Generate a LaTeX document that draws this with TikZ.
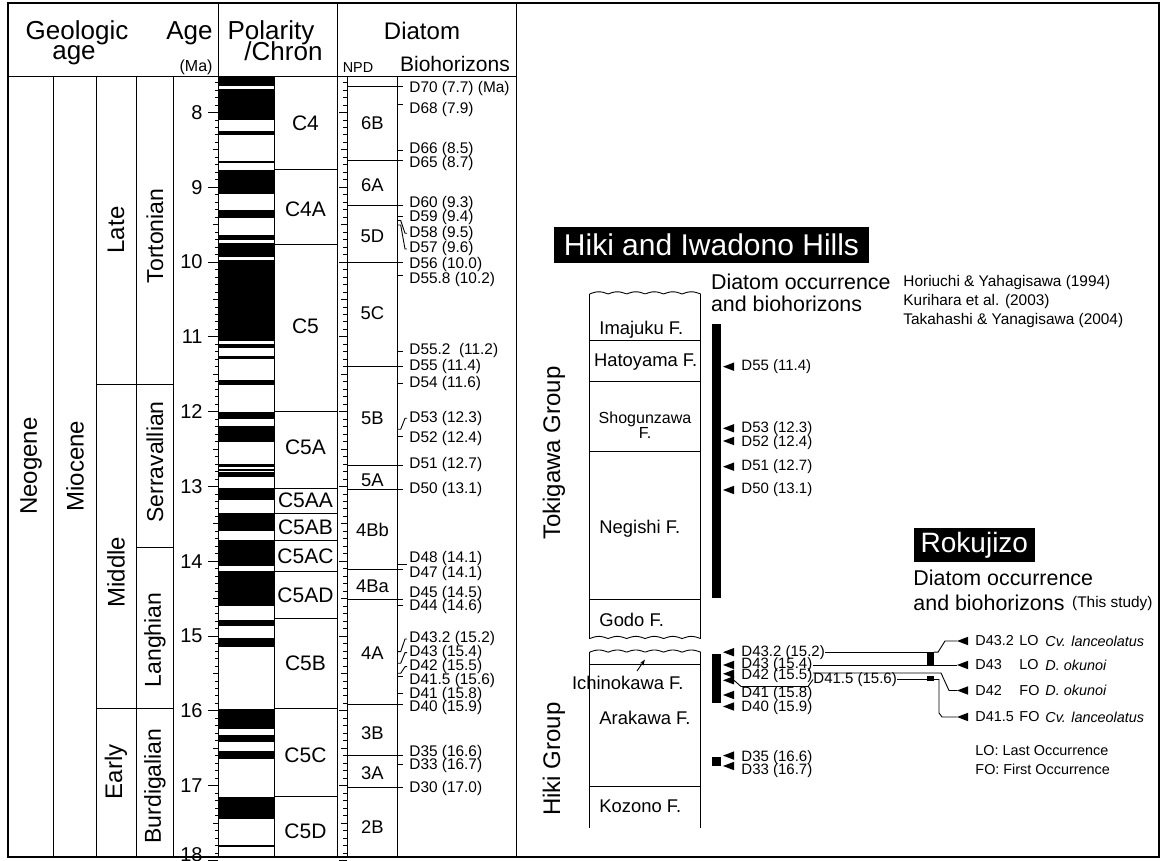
\documentclass[tikz,border=0pt]{standalone}
\usepackage{fontspec}
\setmainfont{Liberation Sans}
\usetikzlibrary{arrows.meta}
\newcommand{\fsz}[1]{\fontsize{#1}{#1}\selectfont}
% age (Ma) -> vertical pixel position
\newcommand{\ay}[1]{(112.5+74.8*(#1-8))}

\begin{document}
\begin{tikzpicture}[x=0.5pt,y=-0.5pt,line width=0.45pt,
  bio/.style={font=\fsz{7.7},inner sep=0,anchor=west},
  hbio/.style={font=\fsz{7.5},inner sep=0,anchor=west},
  rbio/.style={font=\fsz{7.2},inner sep=0,anchor=west},
  fm/.style={font=\fsz{9.2},inner sep=0,anchor=west},
  horizon/.pic={\fill (0,0) -- (11,-4.2) -- (11,4.2) -- cycle;}]
  \useasboundingbox (0,0) rectangle (1164,861);
  \clip (0,0) rectangle (1164,861);

  % column frame
  \foreach \x in {218,337,516} \draw (\x,3) -- (\x,857);
  \draw (8,76) -- (516,76);
  \foreach \x in {53,96,136,173,274,347.3,397.7} \draw (\x,76) -- (\x,857);

  % header
  \node[font=\fsz{13},anchor=base] (hgeo) at (77,40) {Geologic};
  \node[font=\fsz{13},anchor=base] (hage) at (74,60) {age};
  \node[font=\fsz{13},anchor=base east,inner sep=0] (hma) at (213,40) {Age};
  \node[font=\fsz{8},anchor=base east,inner sep=0] (hunit) at (213,72) {(Ma)};
  \node[font=\fsz{13},anchor=base] (hpol) at (271,40) {Polarity};
  \node[font=\fsz{13},anchor=base] (hchr) at (283.5,60.5) {/Chron};
  \node[font=\fsz{12},anchor=base] (hdia) at (422,40) {Diatom};
  \node[font=\fsz{7.2},anchor=base] (hnpd) at (358,73) {NPD};
  \node[font=\fsz{10.5},anchor=base] (hbio) at (455,72) {Biohorizons};

  % geologic age
  \node[rotate=90,font=\fsz{12}] (neogene) at (31,466) {Neogene};
  \node[rotate=90,font=\fsz{12}] (miocene) at (75,466) {Miocene};
  \node[rotate=90,font=\fsz{12}] (late) at (116,230) {Late};
  \node[rotate=90,font=\fsz{12}] (middle) at (116,572) {Middle};
  \node[rotate=90,font=\fsz{12}] (early) at (116,772) {Early};
  \node[rotate=90,font=\fsz{11.5}] (torton) at (155,236) {Tortonian};
  \node[rotate=90,font=\fsz{11.5}] (serra) at (155,462) {Serravallian};
  \node[rotate=90,font=\fsz{11.5}] (langh) at (155,640) {Langhian};
  \node[rotate=90,font=\fsz{11.5}] (burdi) at (155,786) {Burdigalian};
  \draw (96,{\ay{11.63}}) -- (173,{\ay{11.63}});
  \draw (136,{\ay{13.82}}) -- (173,{\ay{13.82}});
  \draw (96,{\ay{15.97}}) -- (173,{\ay{15.97}});

  % age scales
  \foreach \i in {76,...,180}{
    \pgfmathsetmacro\tl{ifthenelse(mod(\i,10)==0,10,ifthenelse(mod(\i,5)==0,5.5,3))}
    \pgfmathsetmacro\tn{ifthenelse(mod(\i,10)==0,8,ifthenelse(mod(\i,5)==0,6,4))}
    \draw (218,{\ay{\i/10}}) -- ++(-\tl,0);
    \draw (347.3,{\ay{\i/10}}) -- ++(-\tn,0);
  }
  \foreach \n in {8,...,17}
    \node[font=\fsz{10},anchor=east,inner sep=1] (age\n) at (205,{\ay{\n}}) {\n};
  \node[font=\fsz{10},anchor=east,inner sep=1] (age18) at (205,855) {18};

  % polarity (normal = black)
  \foreach \a/\b in {7.512/7.64,7.686/8.10,8.247/8.30,8.645/8.67,8.77/9.09,
      9.30/9.41,9.64/9.71,9.745/9.93,9.97/11.05,11.10/11.15,11.25/11.30,
      11.58/11.64,12.0/12.10,12.19/12.40,12.70/12.74,12.77/12.79,12.81/12.87,
      13.02/13.18,13.36/13.60,13.72/14.06,14.13/14.60,14.78/14.87,15.02/15.15,
      15.97/16.24,16.32/16.42,16.53/16.64,17.15/17.45,17.79/17.82}
    \fill (218,{\ay{\a}}) rectangle (274,{\ay{\b}});
  \foreach \a in {8.76,9.76,12.0,13.02,13.36,13.72,14.14,14.77,15.97,17.15}
    \draw (274,{\ay{\a}}) -- (337,{\ay{\a}});
  \foreach \c/\a in {C4/8.14,C4A/9.30,C5/10.86,C5A/12.47,C5AA/13.19,C5AB/13.54,
      C5AC/13.93,C5AD/14.45,C5B/15.36,C5C/16.59,C5D/17.61}
    \node[font=\fsz{10.5}] (chron\c) at (305.5,{\ay{\a}}) {\c};

  % NPD zones
  \foreach \y in {86.7,160.7,205.3,262.3,366.7,465,489.3,569.3,599.3,704.3,755,787.3}
    \draw (347.3,\y) -- (403,\y);
  \foreach \z/\y in {6B/123.3,6A/185,5D/236.7,5C/313.3,5B/418.3,5A/480,4Bb/530,
      4Ba/586,4A/653.3,3B/733.3,3A/773.3,2B/826.7}
    \node[font=\fsz{9.2}] (npd\z) at (372.5,\y) {\z};

  % diatom biohorizons
  \foreach \y in {104.3,150,216,275,351.7,383.3,436.7,605,676.7,693.3,764}
    \draw (397.7,\y) -- (403,\y);
  \draw (397.7,564.3) -- (407,564.3);
  \foreach \s/\t in {220.5/233.3,225/249,429.3/418.3,651.7/639,663.3/652.7,673.3/666.7}
    \draw (397.7,\s) -- (400.7,\s) -- (405,\t) -- (407,\t);
  \foreach \t/\y [count=\k] in {D70 (7.7) (Ma)/89,D68 (7.9)/110,D66 (8.5)/149.3,
      D65 (8.7)/164,D60 (9.3)/204,D59 (9.4)/217.3,D58 (9.5)/233.3,D57 (9.6)/249,
      D56 (10.0)/265,D55.8 (10.2)/280,D55.2\ \ (11.2)/351,D55 (11.4)/366.7,
      D54 (11.6)/384,D53 (12.3)/418.3,D52 (12.4)/438.3,D51 (12.7)/465,
      D50 (13.1)/490,D48 (14.1)/558.3,D47 (14.1)/573.3,D45 (14.5)/593.3,
      D44 (14.6)/606.7,D43.2 (15.2)/639,D43 (15.4)/652.7,D42 (15.5)/666.7,
      D41.5 (15.6)/680.7,D41 (15.8)/695,D40 (15.9)/707.3,D35 (16.6)/752.7,
      D33 (16.7)/766,D30 (17.0)/788.3}
    \node[bio] (bh\k) at (409,\y) {\t};

  % Hiki and Iwadono Hills
  \fill (553.5,226.7) rectangle (869.4,262.7);
  \node[font=\fsz{15},text=white] (hikititle) at (711.5,245) {Hiki and Iwadono Hills};
  \node[font=\fsz{10.7},inner sep=0,anchor=west] (hikiocc) at (710.6,282) {Diatom occurrence};
  \node[font=\fsz{10.7},inner sep=0,anchor=west] (hikibio) at (710.6,304) {and biohorizons};
  \node[bio] (ref1) at (903,282.3) {Horiuchi \& Yahagisawa (1994)};
  \node[bio] (ref2) at (903,301.7) {Kurihara et al. (2003)};
  \node[bio] (ref3) at (903,320.7) {Takahashi \& Yanagisawa (2004)};

  \foreach \y in {294,638.6,652.2}
    \draw plot[domain=589.6:700.7,samples=90] (\x,{\y-2.2*abs(sin((\x-589.6)*9.73))});
  \draw (589.6,294) -- (589.6,638.6) (700.7,294) -- (700.7,638.6);
  \draw (589.6,652.2) -- (589.6,828) (700.7,652.2) -- (700.7,828);
  \foreach \y in {340,381,451.7,599.3,664,786} \draw (589.6,\y) -- (700.7,\y);
  \node[fm] (imajuku) at (599,330) {Imajuku F.};
  \node[fm] (hatoyama) at (593.6,361.7) {Hatoyama F.};
  \node[font=\fsz{8}] (shogun) at (645,419) {Shogunzawa};
  \node[font=\fsz{8}] (shogunf) at (645,433.3) {F.};
  \node[fm] (negishi) at (599,528.3) {Negishi F.};
  \node[fm] (godo) at (599,620) {Godo F.};
  \node[fm] (ichino) at (571.6,682.7) {Ichinokawa F.};
  \node[fm] (arakawa) at (599,718) {Arakawa F.};
  \node[fm] (kozono) at (599,806) {Kozono F.};
  \draw[-{Stealth[length=3pt,width=2pt]}] (637,671) -- (645,659.5);
  \node[rotate=90,font=\fsz{12}] (tokigawa) at (554,453) {Tokigawa Group};
  \node[rotate=90,font=\fsz{12}] (hikigrp) at (554,759) {Hiki Group};

  \fill (711.8,324) rectangle (720.6,598.3);
  \fill (711.8,654) rectangle (720.6,703);
  \fill (711.8,757.3) rectangle (720.6,765.8);
  \foreach \y in {366.7,428.3,441,466.7,490,652.2,665,673.8,680.3,695,706.5,755.6,766}
    \pic at (723,\y) {horizon};
  \foreach \t/\y/\n in {D55 (11.4)/366.7/h55,D53 (12.3)/428.3/h53,D52 (12.4)/442.3/h52,
      D51 (12.7)/466.7/h51,D50 (13.1)/490/h50,D43.2 (15.2)/652.2/h432,
      D43 (15.4)/665/h43,D42 (15.5)/676/h42,D41 (15.8)/693.5/h41,
      D40 (15.9)/707.5/h40,D35 (16.6)/758/h35,D33 (16.7)/770.5/h33}
    \node[hbio] (\n) at (741,\y) {\t};
  \node[hbio] (h415) at (813,679.5) {D41.5 (15.6)};
  \draw (734,680.3) -- (741,686.5) -- (808,686.5) -- (h415.west);

  % Rokujizo
  \fill (913.8,527.7) rectangle (1035,562.3);
  \node[font=\fsz{14},text=white] (rokutitle) at (974.4,545) {Rokujizo};
  \node[font=\fsz{10.7},inner sep=0,anchor=west] (rokuocc) at (913,578.3) {Diatom occurrence};
  \node[font=\fsz{10.7},inner sep=0,anchor=west] (rokubio) at (913,602.7) {and biohorizons};
  \node[bio] (thisstudy) at (1071.7,604) {(This study)};
  \fill (926.7,652) rectangle (934,665.5);
  \fill (926.7,676) rectangle (934,681);
  \foreach \y/\c/\o/\s [count=\k] in {641/D43.2/LO/Cv. lanceolatus,665/D43/LO/D. okunoi,
      690.5/D42/FO/D. okunoi,717/D41.5/FO/Cv. lanceolatus}{
    \pic at (957,\y) {horizon};
    \coordinate (rt\k) at (957,\y);
    \node[rbio] (rc\k) at (975,\y) {\c};
    \node[rbio] (ro\k) at (1019,\y) {\o};
    \node[rbio,font=\fsz{7.2}\itshape] (rs\k) at (1045,\y) {\s};
  }
  \draw (h432.east) -- (926.7,652.2);
  \draw (934,652.2) -- (938,652.2) -- (945,641) -- (rt1);
  \draw (h43.east) -- (rt2);
  \draw ([yshift=1.5pt]h42.east) -- (941,673) -- (949,690.5) -- (rt3);
  \draw (h415.east) -- (926.7,679.5);
  \draw (934,679.5) -- (939,679.5) -- (939,713) -- (942,717) -- (rt4);
  \node[rbio] (legLO) at (975,750.7) {LO: Last Occurrence};
  \node[rbio] (legFO) at (975,769.5) {FO: First Occurrence};

  \draw[line width=1.2pt] (8,3) rectangle (1159,857);
\end{tikzpicture}
\end{document}
